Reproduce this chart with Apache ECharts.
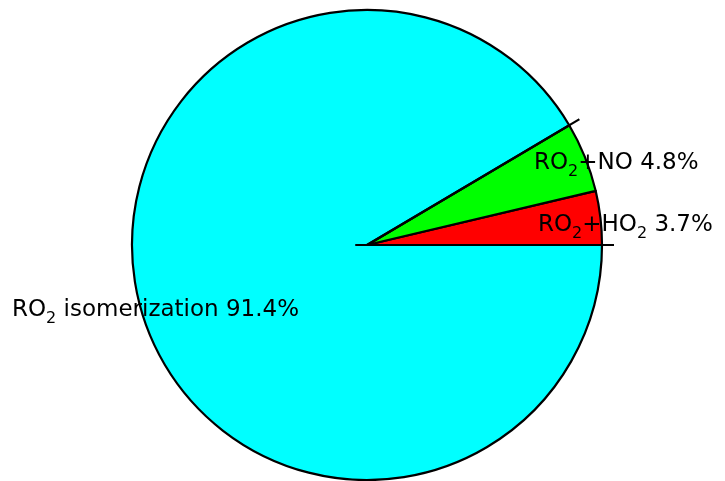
<!DOCTYPE html>
<html>
<head>
<meta charset="utf-8">
<script src="https://cdn.jsdelivr.net/npm/echarts@6/dist/echarts.min.js"></script>
<style>
  html, body { margin: 0; padding: 0; background: #fff; }
  #chart { width: 725px; height: 481px; }
</style>
</head>
<body>
<div id="chart"></div>
<script>
// slices counterclockwise from 3 o'clock
const names = ['RO2+HO2', 'RO2+NO', 'RO2 isomerization']
const labelParts = [
  ['RO', '2', '+HO', '2', ' 3.7%'],
  ['RO', '2', '+NO 4.8%'],
  ['RO', '2', ' isomerization 91.4%'],
]
const values = [3.7, 4.8, 91.4]
const colors = ['#ff0000', '#00ff00', '#00ffff']

const total = values.reduce((a, b) => a + b, 0)
const boundary = values[0] + values[1]

const chart = echarts.init(document.getElementById('chart'))

// label anchors (left edge, vertical middle)
const labelPos = [
  [538, 225],
  [534, 163],
  [12, 310],
]

function richLabel(parts) {
  return parts.map((p, i) => (i % 2 === 1 ? '{s|' + p + '}' : '{n|' + p + '}')).join('')
}

const font = 'DejaVu Sans'

const option = {
  animation: false,
  backgroundColor: '#fff',
  polar: { center: [367, 245], radius: 247 },
  angleAxis: { type: 'value', min: 0, max: total, startAngle: 0, clockwise: false, show: false },
  radiusAxis: { type: 'value', min: 0, max: 1.05, show: false },
  series: [
    {
      type: 'pie',
      center: [367, 245],
      radius: 235,
      startAngle: 0,
      clockwise: false,
      silent: true,
      data: values.map((v, i) => ({
        name: names[i],
        value: v,
        itemStyle: { color: colors[i] },
        label: { formatter: richLabel(labelParts[i]) },
      })),
      itemStyle: { borderColor: '#000', borderWidth: 2.2 },
      label: {
        show: true,
        position: 'outside',
        alignTo: 'none',
        overflow: 'none',
        color: '#000',
        fontFamily: font,
        rich: {
          n: { fontSize: 23, color: '#000', fontFamily: font },
          s: { fontSize: 16, color: '#000', fontFamily: font, padding: [18, 0, 0, 0] },
        },
      },
      labelLine: { show: false },
      labelLayout: (params) => ({
        x: labelPos[params.dataIndex][0],
        y: labelPos[params.dataIndex][1],
        align: 'left',
        verticalAlign: 'middle',
        width: 400,
      }),
    },
    {
      type: 'line',
      coordinateSystem: 'polar',
      silent: true,
      symbol: 'none',
      lineStyle: { color: '#000', width: 2.2 },
      data: [[0.05, total / 2], [1.05, 0]],
      z: 5,
    },
    {
      type: 'line',
      coordinateSystem: 'polar',
      silent: true,
      symbol: 'none',
      lineStyle: { color: '#000', width: 2.2 },
      data: [[0, boundary], [1.05, boundary]],
      z: 5,
    },
  ],
}

chart.setOption(option)
window.addEventListener('resize', () => chart.resize())
</script>
</body>
</html>
